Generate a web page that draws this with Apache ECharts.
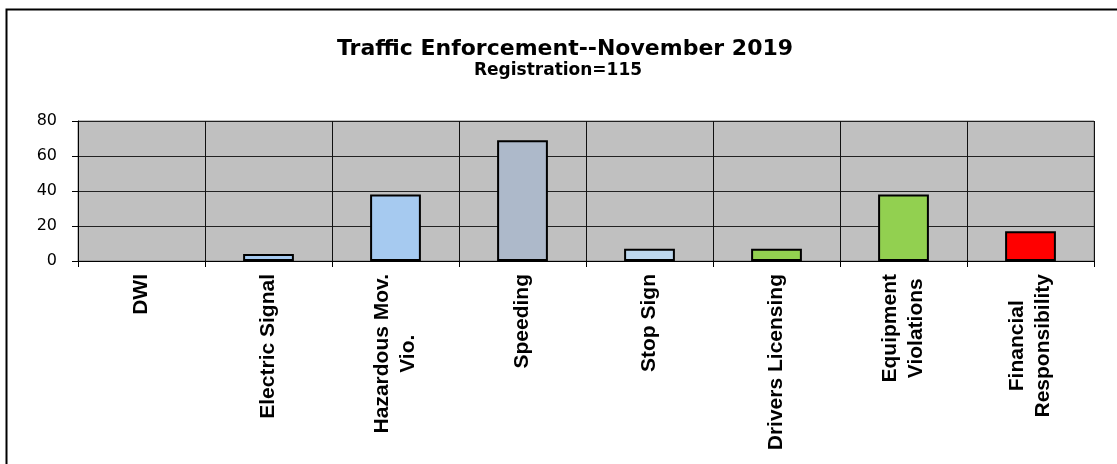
<!DOCTYPE html>
<html>
<head>
<meta charset="utf-8">
<script src="https://cdn.jsdelivr.net/npm/echarts@6/dist/echarts.min.js"></script>
<style>
  html, body { margin: 0; padding: 0; background: #fff; }
  #main { width: 1117px; height: 464px; }
</style>
</head>
<body>
<div id="main"></div>
<script>
var categories = ['DWI', 'Electric Signal', 'Hazardous Mov.\nVio.', 'Speeding', 'Stop Sign',
    'Drivers Licensing', 'Equipment\nViolations', 'Financial\nResponsibility'];
var counts = [0, 4, 38, 69, 7, 7, 38, 17];
var barColors = ['#a6caf0', '#a6caf0', '#a6caf0', '#adb9ca', '#bdd7ee', '#92d050', '#92d050', '#ff0000'];
var yTicks = [0, 20, 40, 60, 80];

var dom = document.getElementById('main');
var myChart = echarts.init(dom);

// zero bars get no outline, like the original
var barData = counts.map(function (v, i) {
    return {
        value: v,
        itemStyle: { color: barColors[i], borderWidth: v === 0 ? 0 : 2 }
    };
});

myChart.setOption({
    animation: false,
    title: [{
        text: 'Traffic Enforcement--November 2019',
        left: 560,
        top: 33,
        textAlign: 'center',
        textStyle: {
            fontFamily: 'DejaVu Sans',
            fontWeight: 'bold',
            fontSize: 22,
            color: '#000'
        }
    }, {
        text: 'Registration=115',
        left: 553,
        top: 57,
        textAlign: 'center',
        textStyle: {
            fontFamily: 'DejaVu Sans',
            fontWeight: 'bold',
            fontSize: 17,
            color: '#000'
        }
    }],
    graphic: [{
        type: 'rect',
        left: 4,
        top: 7,
        shape: { width: 1200, height: 500 },
        style: { fill: 'none', stroke: '#000', lineWidth: 2 },
        silent: true
    }],
    grid: {
        left: 78,
        right: 23,
        top: 121,
        bottom: 203,
        show: true,
        backgroundColor: '#c0c0c0',
        borderColor: '#808080',
        borderWidth: 1
    },
    xAxis: {
        type: 'category',
        data: categories,
        axisLine: { lineStyle: { color: '#000', width: 1 } },
        axisTick: { show: true, length: 6, lineStyle: { color: '#000' } },
        splitLine: { show: true, lineStyle: { color: '#111', width: 1 } },
        axisLabel: {
            rotate: 90,
            interval: 0,
            margin: 13,
            formatter: function (val) {
                return val.split('\n').map(function (s) {
                    return '{c|' + s + '}';
                }).join('\n');
            },
            rich: {
                c: {
                    align: 'center',
                    fontFamily: 'Liberation Sans',
                    fontWeight: 'bold',
                    fontSize: 21,
                    lineHeight: 26,
                    color: '#000'
                }
            }
        }
    },
    yAxis: {
        type: 'value',
        min: yTicks[0],
        max: yTicks[yTicks.length - 1],
        interval: 20,
        axisLine: { show: true, lineStyle: { color: '#000', width: 1 } },
        axisTick: { show: true, length: 6, lineStyle: { color: '#000' } },
        splitLine: { show: true, lineStyle: { color: '#222', width: 1 } },
        axisLabel: {
            margin: 21,
            fontFamily: 'DejaVu Sans',
            fontSize: 16,
            color: '#000'
        }
    },
    series: [{
        type: 'bar',
        data: barData,
        barWidth: '40%',
        itemStyle: { borderColor: '#000', borderWidth: 2 }
    }]
});

window.onresize = function () {
    myChart.resize();
};
</script>
</body>
</html>
